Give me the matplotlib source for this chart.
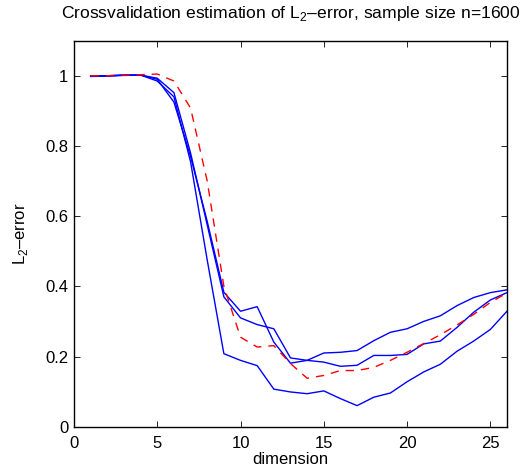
import matplotlib
matplotlib.use("Agg")
import matplotlib.pyplot as plt

plt.rcParams['font.family'] = ['Liberation Sans', 'DejaVu Sans']
plt.rcParams['mathtext.fontset'] = 'custom'
plt.rcParams['mathtext.rm'] = 'Liberation Sans'

# dimensions 1..26
dims = list(range(1, 27))

# three crossvalidation runs (blue) and the true error (red dashed)
run_a = [1.0, 1.0, 1.002, 1.002, 0.993, 0.952, 0.78, 0.575, 0.370, 0.310, 0.291, 0.279, 0.196,
         0.189, 0.210, 0.212, 0.217, 0.245, 0.269, 0.279, 0.300, 0.316, 0.345, 0.368, 0.382, 0.390]
run_b = [1.0, 1.0, 1.002, 1.002, 0.990, 0.925, 0.77, 0.585, 0.383, 0.329, 0.342, 0.241, 0.181,
         0.189, 0.184, 0.172, 0.175, 0.203, 0.203, 0.206, 0.236, 0.244, 0.283, 0.326, 0.361, 0.382]
run_c = [0.998, 0.999, 1.001, 1.002, 0.985, 0.94, 0.755, 0.475, 0.208, 0.189, 0.174, 0.107, 0.099,
         0.094, 0.102, 0.080, 0.060, 0.084, 0.096, 0.128, 0.156, 0.178, 0.215, 0.244, 0.277, 0.329]
true_err = [1.0, 1.0, 1.002, 1.003, 1.005, 0.985, 0.908, 0.70, 0.40, 0.255, 0.227, 0.231, 0.180,
            0.138, 0.146, 0.160, 0.160, 0.169, 0.189, 0.212, 0.237, 0.262, 0.290, 0.320, 0.354, 0.381]

fig = plt.figure(figsize=(5.27, 4.72), dpi=100)
ax = fig.add_axes([0.1404, 0.096, 0.8216, 0.8178])

for run in (run_a, run_b, run_c):
    ax.plot(dims, run, color='#0000ff', linewidth=1.0)
ax.plot(dims, true_err, color='#ff0000', linewidth=1.0, linestyle=(0, (6, 5)))

ax.set_xlim(0, 26)
ax.set_ylim(0, 1.1)
ax.set_xticks([0, 5, 10, 15, 20, 25])
ax.set_yticks([0, 0.2, 0.4, 0.6, 0.8, 1.0])
ax.set_yticklabels(['0', '0.2', '0.4', '0.6', '0.8', '1'])
ax.tick_params(direction='in', top=True, right=True, labelsize=12, length=4, width=0.6, pad=4)
ax.tick_params(axis='x', pad=6.5)
for s in ax.spines.values():
    s.set_linewidth(1.0)

ax.set_xlabel('dimension', fontsize=12, labelpad=1)
ax.set_ylabel('L$_2$–error', fontsize=12, labelpad=11)
ax.set_title('Crossvalidation estimation of L$_2$–error, sample size n=1600', fontsize=12.6, pad=16.5)

fig.savefig('out.png', dpi=100)
